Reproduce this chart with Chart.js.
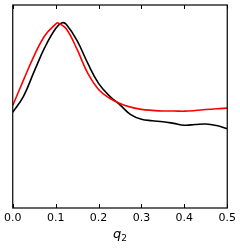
<!DOCTYPE html>
<html><head><meta charset="utf-8">
<script src="https://cdn.jsdelivr.net/npm/chart.js@4"></script>
<style>html,body{margin:0;padding:0;background:#fff}#c{display:block}</style>
</head><body>
<canvas id="c" width="240" height="248"></canvas>
<script>
const qRed   = [0,0.025,0.05,0.075,0.1,0.105,0.125,0.15,0.175,0.2,0.225,0.25,0.275,0.3,0.325,0.35,0.375,0.4,0.425,0.45,0.475,0.5];
const redVals= [0.505,0.630,0.751,0.850,0.906,0.912,0.882,0.781,0.663,0.584,0.542,0.515,0.497,0.486,0.481,0.478,0.478,0.477,0.480,0.485,0.489,0.492];
const qBlack = [0,0.025,0.05,0.075,0.1,0.115,0.125,0.15,0.175,0.2,0.225,0.25,0.275,0.3,0.325,0.35,0.375,0.4,0.425,0.45,0.475,0.5];
const blackVals=[0.472,0.550,0.673,0.792,0.884,0.912,0.904,0.825,0.712,0.614,0.553,0.508,0.460,0.437,0.430,0.425,0.417,0.408,0.411,0.414,0.406,0.391];
const xTicks = [0,0.1,0.2,0.3,0.4,0.5];

const pts = (xs, ys) => xs.map((x,i)=>({x:x,y:ys[i]}));

const frame = {
  id:'frame',
  afterDraw(chart){
    const {ctx, chartArea:a, scales:{x}} = chart;
    ctx.save();
    ctx.strokeStyle='#000'; ctx.lineWidth=1.2;
    ctx.strokeRect(a.left, a.top, a.right-a.left, a.bottom-a.top);
    ctx.lineWidth=1;
    xTicks.forEach(v=>{
      const px = Math.round(x.getPixelForValue(v))+0.5;
      ctx.beginPath(); ctx.moveTo(px,a.bottom); ctx.lineTo(px,a.bottom-4); ctx.stroke();
      ctx.beginPath(); ctx.moveTo(px,a.top); ctx.lineTo(px,a.top+4); ctx.stroke();
    });
    const cx = (a.left+a.right)/2;
    ctx.fillStyle='#000';
    ctx.textBaseline='alphabetic';
    ctx.font='italic 13px "DejaVu Sans"';
    const wq = ctx.measureText('q').width;
    ctx.font='9px "DejaVu Sans"';
    const w2 = ctx.measureText('2').width;
    const x0 = cx - (wq+w2)/2;
    ctx.font='italic 13px "DejaVu Sans"';
    ctx.fillText('q', x0, 238);
    ctx.font='9px "DejaVu Sans"';
    ctx.fillText('2', x0+wq, 241);
    ctx.restore();
  }
};

new Chart(document.getElementById('c'), {
  type:'line',
  data:{datasets:[
    {data:pts(qRed,redVals), borderColor:'#ff0000', borderWidth:1.6, pointRadius:0, tension:0.4, fill:false},
    {data:pts(qBlack,blackVals), borderColor:'#000000', borderWidth:1.6, pointRadius:0, tension:0.4, fill:false}
  ]},
  options:{
    responsive:false, animation:false,
    layout:{padding:{left:11,right:12,top:5,bottom:0}},
    plugins:{legend:{display:false}, tooltip:{enabled:false}},
    scales:{
      x:{type:'linear', min:0, max:0.5,
        afterBuildTicks(s){ s.ticks = xTicks.map(v=>({value:v})); },
        afterFit(s){ s.height = 40; },
        grid:{display:false, drawTicks:false}, border:{display:false},
        ticks:{padding:4, color:'#000', font:{family:'DejaVu Sans', size:11}, maxRotation:0,
          callback:v=>Number(v).toFixed(1)}
      },
      y:{min:0, max:1, display:true,
        afterFit(s){ s.width = 0; },
        grid:{display:false, drawTicks:false}, border:{display:false},
        ticks:{display:false}}
    }
  },
  plugins:[frame]
});
</script>
</body></html>
